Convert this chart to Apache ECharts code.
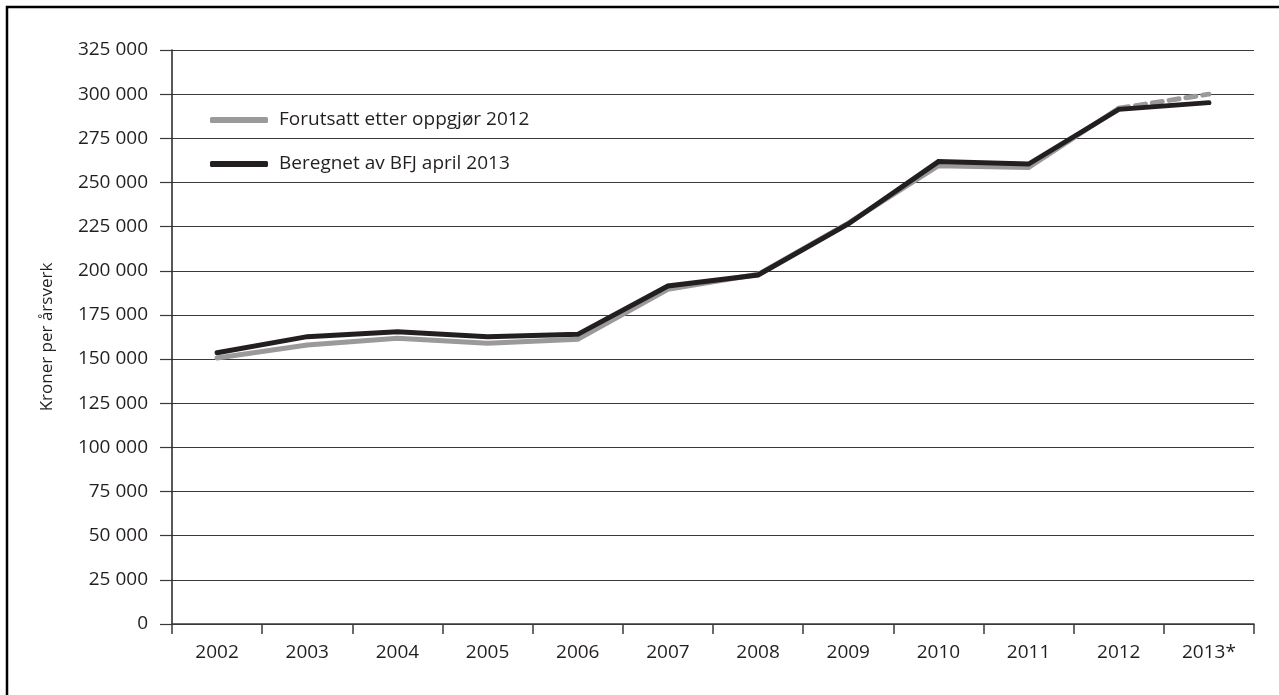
<!DOCTYPE html>
<html>
<head>
<meta charset="utf-8">
<script src="https://cdn.jsdelivr.net/npm/echarts@6/dist/echarts.min.js"></script>
<style>
html,body{margin:0;padding:0;background:#fff;}
#chart{width:1279px;height:695px;}
</style>
</head>
<body>
<div id="chart"></div>
<script>
var categories = ['2002','2003','2004','2005','2006','2007','2008','2009','2010','2011','2012','2013*'];
var forutsatt = [150600, 158000, 161800, 158900, 161200, 189500, 198000, 227000, 259500, 258500, 292000, null];
var forutsattProg = [null, null, null, null, null, null, null, null, null, null, 292000, 300000];
var beregnet = [153600, 162700, 165500, 162700, 164000, 191400, 197600, 226500, 261800, 260400, 291400, 295200];
var seriesNames = ['Forutsatt etter oppgjør 2012', 'Beregnet av BFJ april 2013'];
var yAxisName = 'Kroner per årsverk';

var FONT = 'Open Sans';
var chart = echarts.init(document.getElementById('chart'));
chart.setOption({
  animation: false,
  backgroundColor: '#fff',
  textStyle: {fontFamily: FONT},
  grid: {left: 172, right: 25, top: 50, bottom: 71, containLabel: false},
  legend: {
    orient: 'vertical',
    left: 210, top: 110,
    padding: 0,
    itemWidth: 58, itemHeight: 6,
    itemGap: 24,
    icon: 'roundRect',
    data: seriesNames,
    textStyle: {fontFamily: FONT, fontSize: 19, lineHeight: 20, color: '#231f20', padding: [0,0,0,6]}
  },
  xAxis: {
    type: 'category',
    data: categories,
    boundaryGap: true,
    axisLine: {lineStyle: {color: '#3a3a3a', width: 1.5}},
    axisTick: {show: true, length: 10, alignWithLabel: false, lineStyle: {color: '#3a3a3a', width: 1.5}},
    axisLabel: {color: '#231f20', fontSize: 19, margin: 19, fontFamily: FONT},
    splitLine: {show: false}
  },
  yAxis: {
    type: 'value',
    min: 0, max: 325000, interval: 25000,
    name: yAxisName,
    nameLocation: 'middle',
    nameGap: 116,
    nameTextStyle: {color: '#231f20', fontSize: 17, fontFamily: FONT},
    axisLine: {show: true, lineStyle: {color: '#231f20', width: 1.5}},
    axisTick: {show: true, length: 12, lineStyle: {color: '#3a3a3a', width: 1.2}},
    axisLabel: {
      color: '#231f20', fontSize: 19, margin: 24, fontFamily: FONT,
      formatter: function (v) {
        var s = String(v);
        return s.length > 3 ? s.slice(0, s.length - 3) + ' ' + s.slice(-3) : s;
      }
    },
    splitLine: {show: true, lineStyle: {color: '#3a3a3a', width: 1.2}}
  },
  graphic: [{
    type: 'rect', silent: true, z: 100,
    shape: {x: 7, y: 7, width: 1400, height: 800},
    style: {fill: 'none', stroke: '#000', lineWidth: 2.5}
  }],
  series: [
    {
      name: seriesNames[0], type: 'line', data: forutsatt,
      symbol: 'none', z: 2,
      itemStyle: {color: '#9a9a9c'},
      lineStyle: {color: '#9a9a9c', width: 5, cap: 'round', join: 'miter'}
    },
    {
      name: 'prognose', type: 'line', data: forutsattProg,
      symbol: 'none', z: 3,
      itemStyle: {color: '#9a9a9c'},
      lineStyle: {color: '#9a9a9c', width: 5, type: [10, 7], cap: 'round'}
    },
    {
      name: seriesNames[1], type: 'line', data: beregnet,
      symbol: 'none', z: 4,
      itemStyle: {color: '#231f20'},
      lineStyle: {color: '#231f20', width: 5, cap: 'round', join: 'miter'}
    }
  ]
});
</script>
</body>
</html>
